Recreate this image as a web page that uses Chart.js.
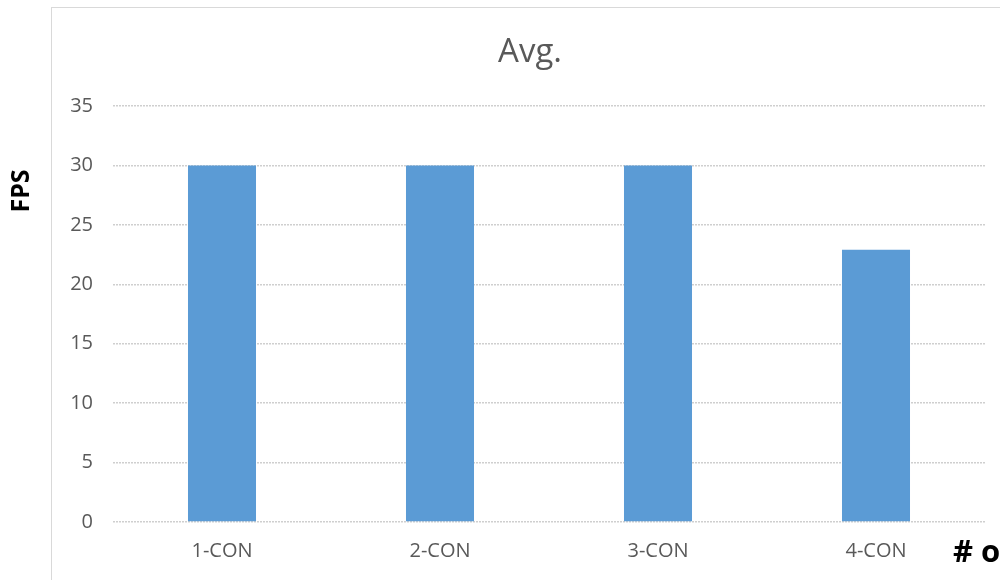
<!DOCTYPE html>
<html>
<head>
<meta charset="utf-8">
<script src="https://cdn.jsdelivr.net/npm/chart.js@4.4.0/dist/chart.umd.min.js"></script>
<style>
  html, body { margin: 0; padding: 0; background: #ffffff; overflow: hidden; }
  #wrap { position: relative; width: 1000px; height: 580px; }
</style>
</head>
<body>
<div id="wrap"><canvas id="avg-chart"></canvas></div>
<script>
// chart data
const categories = ['1-CON', '2-CON', '3-CON', '4-CON'];
const fpsValues = [30, 30, 30, 22.9];
const chartTitle = 'Avg.';
const yAxisLabel = 'FPS';
const xAxisLabel = '# of connections';
const yMax = 35;
const yStep = 5;

const TEXT_GREY = '#595959';
const BAR_BLUE = '#5b9bd5';

// frame, title and the axis labels, placed like the office chart box
const framePlugin = {
  id: 'frame',
  beforeDraw(chart) {
    const ctx = chart.ctx;
    ctx.save();
    ctx.strokeStyle = '#d9d9d9';
    ctx.lineWidth = 1;
    ctx.strokeRect(51.5, 7.5, 1000, 620);
    ctx.restore();
  },
  afterDraw(chart) {
    const ctx = chart.ctx;
    ctx.save();
    ctx.fillStyle = TEXT_GREY;
    ctx.font = '33px "Open Sans"';
    ctx.textAlign = 'center';
    ctx.textBaseline = 'alphabetic';
    ctx.fillText(chartTitle, 530, 62);

    ctx.fillStyle = '#000000';
    ctx.font = 'bold 31px "Open Sans"';
    ctx.textAlign = 'left';
    ctx.fillText(xAxisLabel, 953, 562);

    // vertical axis label sits high on the left, not centred on the axis
    ctx.translate(22, 191);
    ctx.rotate(-Math.PI / 2);
    ctx.font = 'bold 25px "Open Sans"';
    ctx.textAlign = 'center';
    ctx.textBaseline = 'middle';
    ctx.fillText(yAxisLabel, 0, 0);
    ctx.restore();
  }
};

new Chart(document.getElementById('avg-chart'), {
  type: 'bar',
  data: {
    labels: categories,
    datasets: [{
      label: chartTitle,
      data: fpsValues,
      backgroundColor: BAR_BLUE,
      borderWidth: 0,
      categoryPercentage: 1,
      barPercentage: 0.312
    }]
  },
  options: {
    responsive: true,
    maintainAspectRatio: false,
    animation: false,
    layout: { padding: { top: 106, right: 15, left: 0, bottom: 0 } },
    plugins: {
      legend: { display: false },
      title: { display: false },
      tooltip: { enabled: false }
    },
    scales: {
      x: {
        grid: { display: false, drawTicks: false },
        border: { display: false },
        ticks: {
          color: TEXT_GREY,
          font: { family: 'Open Sans', size: 20 },
          padding: 17
        },
        afterFit: (scale) => { scale.height = 58; }
      },
      y: {
        min: 0,
        max: yMax,
        grid: { color: '#cfcfcf', lineWidth: 1.5, drawTicks: false },
        border: { display: false, dash: [2, 1] },
        ticks: {
          stepSize: yStep,
          color: TEXT_GREY,
          font: { family: 'Open Sans', size: 20 },
          padding: 20
        },
        afterFit: (scale) => { scale.width = 113; }
      }
    }
  },
  plugins: [framePlugin]
});
</script>
</body>
</html>
